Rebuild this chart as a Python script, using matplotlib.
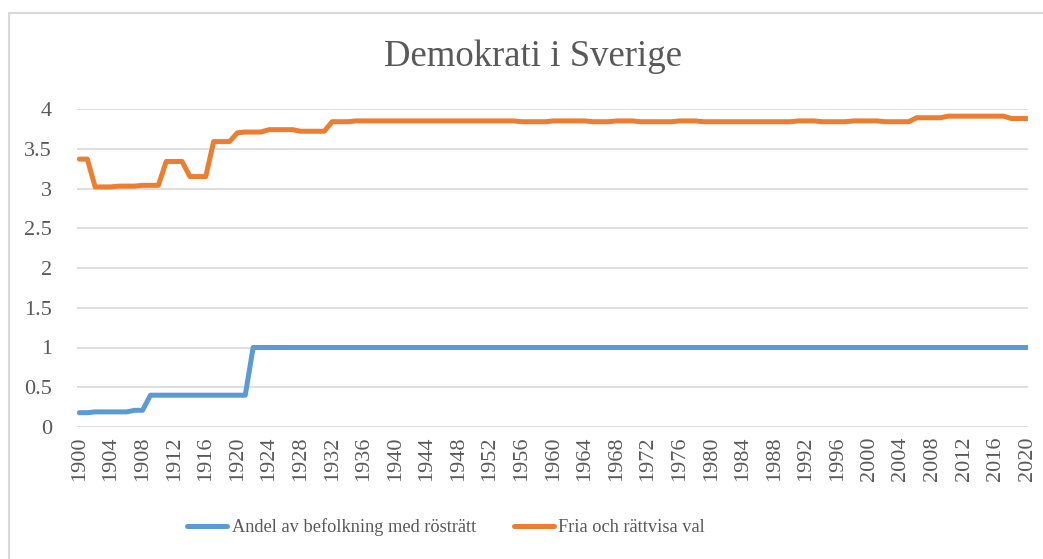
"""
Demokrati i Sverige - two indicators per year, 1900-2020
"""

import numpy as np
import matplotlib.pyplot as plt
from matplotlib.patches import Rectangle

years = list(range(1900, 2021))

# Andel av befolkning med rösträtt
rostratt = ([0.18, 0.18, 0.19, 0.19, 0.19, 0.19, 0.19, 0.21, 0.21]   # 1900-1908
            + [0.40] * 13                                             # 1909-1921
            + [1.00] * 99)                                            # 1922-2020

# Fria och rättvisa val
fria_val = ([3.37, 3.37, 3.02, 3.02, 3.02, 3.03, 3.03, 3.03, 3.04, 3.04, 3.04,  # 1900-1910
             3.34, 3.34, 3.34, 3.15, 3.15, 3.15, 3.59, 3.59, 3.59,              # 1911-1919
             3.70, 3.71, 3.71, 3.71, 3.74, 3.74, 3.74, 3.74,                    # 1920-1927
             3.72, 3.72, 3.72, 3.72, 3.84, 3.84, 3.84]                          # 1928-1934
            + [3.85] * 21    # 1935-1955
            + [3.84] * 4     # 1956-1959
            + [3.85] * 5     # 1960-1964
            + [3.84] * 3     # 1965-1967
            + [3.85] * 3     # 1968-1970
            + [3.84] * 5     # 1971-1975
            + [3.85] * 3     # 1976-1978
            + [3.84] * 12    # 1979-1990
            + [3.85] * 3     # 1991-1993
            + [3.84] * 4     # 1994-1997
            + [3.85] * 4     # 1998-2001
            + [3.84] * 4     # 2002-2005
            + [3.89] * 4     # 2006-2009
            + [3.91] * 8     # 2010-2017
            + [3.88] * 3)    # 2018-2020

title = 'Demokrati i Sverige'
labels = ['Andel av befolkning med rösträtt', 'Fria och rättvisa val']
colors = ['#5B9BD5', '#ED7D31']
text_gray = '#595959'

plt.rcParams['font.family'] = ['Liberation Serif', 'DejaVu Serif']

W, H = 1043, 559
fig = plt.figure(figsize=(W / 100, H / 100), dpi=100)

# chart area border (Excel style)
fig.patches.append(Rectangle((9 / W, -0.05), 1.2, 1 - 13 / H + 0.05,
                             transform=fig.transFigure, fill=False,
                             edgecolor='#D9D9D9', linewidth=1.5))

ax = fig.add_axes([77 / W, 1 - 427 / H, (1028 - 77) / W, (427 - 109) / H])

ax.plot(years, rostratt, color=colors[0], linewidth=3.6,
        solid_capstyle='round', label=labels[0])
ax.plot(years, fria_val, color=colors[1], linewidth=3.6,
        solid_capstyle='round', label=labels[1])

ax.set_xlim(1899.7, 2020.1)
ax.set_ylim(0, 4)
ax.set_yticks(np.arange(0, 4.01, 0.5))
ax.set_yticklabels(['0', '0.5', '1', '1.5', '2', '2.5', '3', '3.5', '4'])
ax.set_xticks(years[::4])
ax.set_xticklabels([str(y) for y in years[::4]], rotation=90)

ax.grid(axis='y', color='#D9D9D9', linewidth=1.2)
ax.set_axisbelow(True)
for s in ax.spines.values():
    s.set_visible(False)
ax.tick_params(axis='both', length=0, labelsize=16, colors=text_gray)
ax.tick_params(axis='x', pad=7)
ax.tick_params(axis='y', pad=18)

fig.text(533 / W, 1 - 57 / H, title, ha='center', va='center',
         fontsize=26.5, color=text_gray)

fig.legend(loc='center', bbox_to_anchor=(446 / W, 1 - 527 / H), ncol=2,
           frameon=False, fontsize=13.2, handlelength=2.2, handletextpad=0.25,
           columnspacing=2.05, labelcolor=text_gray)

fig.savefig('out.png', dpi=100)
